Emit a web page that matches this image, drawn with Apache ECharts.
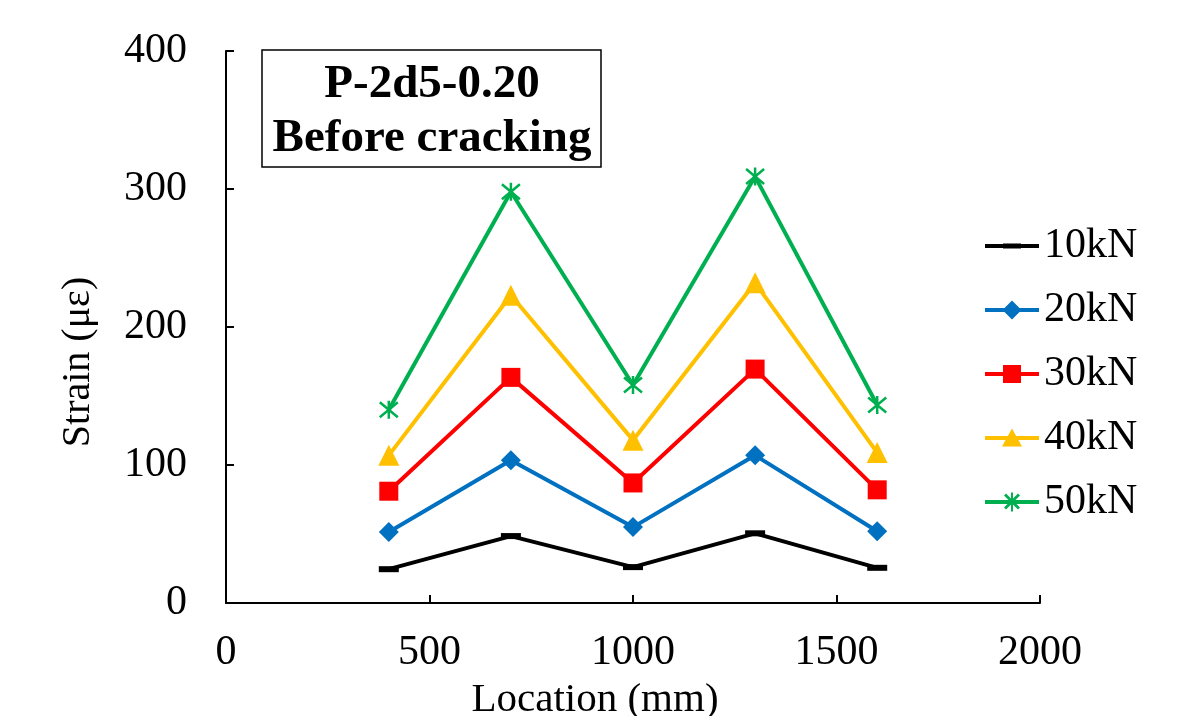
<!DOCTYPE html>
<html><head><meta charset="utf-8">
<script src="https://cdn.jsdelivr.net/npm/echarts@6/dist/echarts.min.js"></script>
<style>html,body{margin:0;padding:0;background:#fff}#c{width:1188px;height:716px}</style>
</head><body><div id="c"></div>
<script>
const locations = [400, 700, 1000, 1300, 1600];
const s10 = [24.5, 48.5, 26, 50.5, 25.5];
const s20 = [51.5, 103.5, 55, 107, 52];
const s30 = [81, 163.5, 87, 169.5, 82];
const s40 = [107, 223, 118, 232, 109];
const s50 = [140, 298, 158, 309, 143.5];
const seriesNames = ['10kN', '20kN', '30kN', '40kN', '50kN'];
const xTicks = [0, 500, 1000, 1500, 2000];
const yTicks = [0, 100, 200, 300, 400];
const titleLines = ['P-2d5-0.20', 'Before cracking'];

const serif = '"Liberation Serif", "Times New Roman", serif';
const colors = ['#000000', '#0070C0', '#FF0000', '#FFC000', '#00B050'];
const star = 'path://M0,0 L10,10 M10,0 L0,10 M5,-1 L5,11';
const symbols = ['rect', 'diamond', 'rect', 'triangle', star];
const sizes = [[20, 6], 20, 19, 21, 18];
const all = [s10, s20, s30, s40, s50];

// legend icons: line + marker, in a 54x22 box (tiny corner dots fix the box)
const box = 'M0,0 h0.01 v0.01 h-0.01 Z M53.99,21.99 h0.01 v0.01 h-0.01 Z ';
const ln = 'M0,9 h54 v4 h-54 Z ';
const legendIcons = [
  'path://' + box + ln + 'M18,8.5 h18 v5 h-18 Z',
  'path://' + box + ln + 'M27,1.5 L36.5,11 L27,20.5 L17.5,11 Z',
  'path://' + box + ln + 'M18,2 h18 v18 h-18 Z',
  'path://' + box + ln + 'M27,1.5 L37,19.5 L17,19.5 Z',
  'path://' + box + ln + 'M26,1.5 h2 v19 h-2 Z M19,4.5 L21,2.5 L35,16.5 L33,18.5 Z M33,2.5 L35,4.5 L21,18.5 L19,16.5 Z'
];

const chart = echarts.init(document.getElementById('c'));
chart.setOption({
  animation: false,
  backgroundColor: '#fff',
  grid: {left: 226, right: 148, top: 51, bottom: 113, containLabel: false},
  xAxis: {
    type: 'value', min: 0, max: 2000, interval: 500,
    axisLine: {onZero: false, lineStyle: {color: '#000', width: 2}},
    axisTick: {inside: true, length: 8, lineStyle: {color: '#000', width: 2}},
    splitLine: {show: false},
    axisLabel: {color: '#000', fontFamily: serif, fontSize: 42, margin: 29,
      formatter: v => xTicks.includes(v) ? String(v) : ''}
  },
  yAxis: {
    type: 'value', min: 0, max: 400, interval: 100,
    axisLine: {show: true, lineStyle: {color: '#000', width: 2}},
    axisTick: {show: true, inside: true, length: 8, lineStyle: {color: '#000', width: 2}},
    splitLine: {show: false},
    axisLabel: {color: '#000', fontFamily: serif, fontSize: 42, margin: 39,
      formatter: v => yTicks.includes(v) ? String(v) : ''}
  },
  legend: {
    orient: 'vertical', left: 985, top: 225, padding: 0,
    itemWidth: 54, itemHeight: 22, itemGap: 22,
    textStyle: {color: '#000', fontFamily: serif, fontSize: 42},
    data: seriesNames.map((n, i) => ({name: n, icon: legendIcons[i], itemStyle: {color: colors[i], borderWidth: 0}}))
  },
  graphic: [
    {type: 'rect', shape: {x: 262, y: 50, width: 339, height: 117},
      style: {fill: '#fff', stroke: '#000', lineWidth: 1.5}, z: 10},
    {type: 'text', x: 432, y: 85, z: 11,
      style: {text: titleLines[0], fontFamily: serif, fontWeight: 'bold', fontSize: 47, fill: '#000', textAlign: 'center', textVerticalAlign: 'middle'}},
    {type: 'text', x: 432, y: 139, z: 11,
      style: {text: titleLines[1], fontFamily: serif, fontWeight: 'bold', fontSize: 47, fill: '#000', textAlign: 'center', textVerticalAlign: 'middle'}},
    {type: 'text', x: 595, y: 700,
      style: {text: 'Location (mm)', fontFamily: serif, fontSize: 41, fill: '#000', textAlign: 'center', textVerticalAlign: 'middle'}},
    {type: 'text', x: 78, y: 362, rotation: Math.PI / 2,
      style: {text: 'Strain (με)', fontFamily: serif, fontSize: 40, fill: '#000', textAlign: 'center', textVerticalAlign: 'middle'}}
  ],
  series: all.map((vals, i) => ({
    name: seriesNames[i], type: 'line',
    data: locations.map((x, j) => [x, vals[j]]),
    symbol: symbols[i], symbolSize: sizes[i],
    lineStyle: {color: colors[i], width: 4},
    itemStyle: i === 4 ? {color: 'rgba(0,0,0,0)', borderColor: colors[i], borderWidth: 2.5}
                       : {color: colors[i], borderWidth: 0},
    emphasis: {disabled: true}
  }))
});
</script></body></html>
